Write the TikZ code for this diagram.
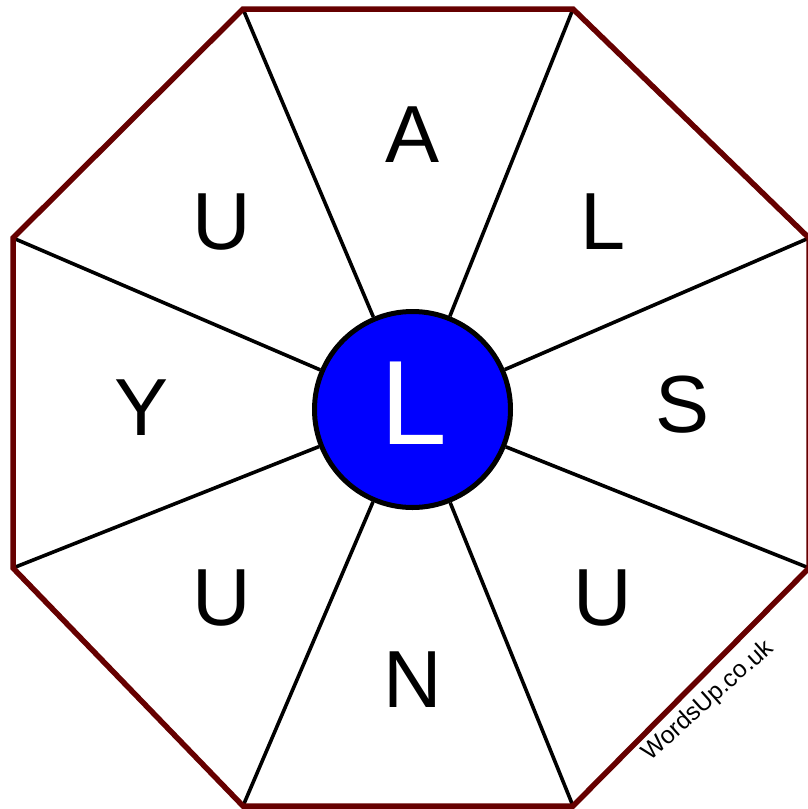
\documentclass[tikz,border=0pt]{standalone}
\usepackage{fontspec}
\setmainfont{Liberation Sans}
\usetikzlibrary{positioning, calc}
\definecolor{RimRed}{HTML}{660000}
\definecolor{HubBlue}{HTML}{0000FF}

\begin{document}
\begin{tikzpicture}[x=1pt, y=-1pt,
    rim/.style={draw=RimRed, line width=5.5pt, line join=miter},
    spoke/.style={draw=black, line width=3.6pt},
    letter/.style={inner sep=0pt, text=black, font=\fontsize{81}{81}\selectfont}]
  \useasboundingbox (0,0) rectangle (808,809);

  % octagon corners
  \coordinate (nw) at (243,9);
  \coordinate (ne) at (573,9);
  \coordinate (en) at (809,238);
  \coordinate (es) at (809,568);
  \coordinate (se) at (573,806);
  \coordinate (sw) at (243,806);
  \coordinate (ws) at (13,568);
  \coordinate (wn) at (13,238);

  % hub
  \node[circle, fill=HubBlue, draw=black, line width=5pt, minimum size=196pt,
        inner sep=0pt] (hub) at (412.5,409.5) {};
  \node[inner sep=0pt, text=white, font=\fontsize{120}{120}\selectfont]
        (hubletter) at (414,403) {L};

  % spokes
  \draw[spoke] (hub) -- (nw);
  \draw[spoke] (hub) -- (ne);
  \draw[spoke] (hub) -- (en);
  \draw[spoke] (hub) -- (es);
  \draw[spoke] (hub) -- (se);
  \draw[spoke] (hub) -- (sw);
  \draw[spoke] (hub) -- (ws);
  \draw[spoke] (hub) -- (wn);

  % rim
  \draw[rim] (nw) -- (ne) -- (en) -- (es) -- (se) -- (sw) -- (ws) -- (wn) -- cycle;

  % letters
  \node[letter] (north)     at (413,135) {A};
  \node[letter] (northeast) at (603,222) {L};
  \node[letter] (east)      at (683,405) {S};
  \node[letter] (southeast) at (603,598) {U};
  \node[letter] (south)     at (413,680) {N};
  \node[letter] (southwest) at (222,598) {U};
  \node[letter] (west)      at (142,408) {Y};
  \node[letter] (northwest) at (222,222) {U};

  \node[rotate=42, inner sep=0pt, font=\fontsize{24.5}{24.5}\selectfont]
        (credit) at (708,701) {WordsUp.co.uk};
\end{tikzpicture}
\end{document}
